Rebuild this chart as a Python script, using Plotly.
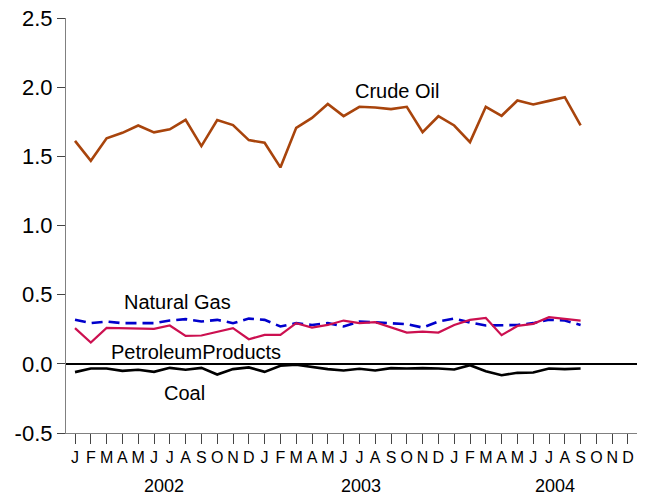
import plotly.graph_objects as go

months = ["J", "F", "M", "A", "M", "J", "J", "A", "S", "O", "N", "D"] * 3
years = ["2002", "2003", "2004"]
year_label_pos = [5.66, 18.1, 30.4]

crude_oil = [1.612, 1.468, 1.630, 1.670, 1.723, 1.673, 1.695, 1.764, 1.574, 1.762,
             1.726, 1.617, 1.598, 1.420, 1.706, 1.778, 1.879, 1.791, 1.858, 1.853,
             1.841, 1.858, 1.675, 1.790, 1.723, 1.603, 1.858, 1.793, 1.904, 1.875,
             1.901, 1.928, 1.723]
natural_gas = [0.318, 0.294, 0.306, 0.294, 0.294, 0.294, 0.313, 0.323, 0.306, 0.318,
               0.294, 0.327, 0.318, 0.270, 0.294, 0.281, 0.294, 0.270, 0.306, 0.299,
               0.289, 0.287, 0.262, 0.306, 0.327, 0.299, 0.277, 0.277, 0.281, 0.294,
               0.318, 0.313, 0.281]
petroleum = [0.258, 0.154, 0.260, 0.258, 0.258, 0.253, 0.277, 0.202, 0.205, 0.233,
             0.258, 0.178, 0.209, 0.209, 0.294, 0.262, 0.281, 0.313, 0.294, 0.301,
             0.262, 0.226, 0.233, 0.226, 0.281, 0.318, 0.332, 0.207, 0.274, 0.289,
             0.337, 0.327, 0.313]
coal = [-0.060, -0.034, -0.034, -0.051, -0.043, -0.058, -0.029, -0.043, -0.029, -0.077,
        -0.038, -0.026, -0.058, -0.014, -0.007, -0.024, -0.038, -0.048, -0.036, -0.048,
        -0.031, -0.034, -0.031, -0.034, -0.041, -0.010, -0.053, -0.082, -0.065, -0.063,
        -0.034, -0.038, -0.034]

y_ticks = [-0.5, 0.0, 0.5, 1.0, 1.5, 2.0, 2.5]
y_tick_text = ["-0.5", "0.0", "0.5", "1.0", "1.5", "2.0", "2.5"]

series_labels = [
    ("Crude Oil", 20.36, 1.975),
    ("Natural Gas", 6.5, 0.444),
    ("PetroleumProducts", 7.63, 0.082),
    ("Coal", 6.96, -0.214),
]

x_idx = list(range(len(crude_oil)))
FONT = "Liberation Sans, Arial, sans-serif"

fig = go.Figure()
fig.add_trace(go.Scatter(x=x_idx, y=natural_gas, mode="lines",
                         line=dict(color="#0000CC", width=2.6, dash="11px,6px")))
fig.add_trace(go.Scatter(x=x_idx, y=petroleum, mode="lines",
                         line=dict(color="#CC1050", width=2.2)))
fig.add_trace(go.Scatter(x=x_idx, y=coal, mode="lines",
                         line=dict(color="#000000", width=2.6)))
fig.add_trace(go.Scatter(x=x_idx, y=crude_oil, mode="lines",
                         line=dict(color="#A8440C", width=2.6)))

for txt, xv, yv in series_labels:
    fig.add_annotation(x=xv, y=yv, text=txt, showarrow=False,
                       font=dict(size=20, color="#000000", family=FONT),
                       xanchor="center", yanchor="middle")

for yr, xv in zip(years, year_label_pos):
    fig.add_annotation(x=xv, y=-0.5, yref="y", text=yr, showarrow=False,
                       font=dict(size=18, color="#000000", family=FONT),
                       xanchor="center", yanchor="middle", yshift=-53)

fig.update_layout(
    width=647, height=496,
    margin=dict(l=66, r=10, t=18, b=63, autoexpand=False),
    paper_bgcolor="white", plot_bgcolor="white",
    showlegend=False,
    font=dict(family=FONT, color="#000000"),
)
fig.update_xaxes(
    range=[-0.57, 35.57], automargin=False,
    tickmode="array", tickvals=list(range(36)), ticktext=months,
    ticks="outside", ticklen=10, tickwidth=1.2, tickcolor="#444444",
    showline=True, linecolor="#808080", linewidth=1.2,
    showgrid=False, zeroline=False,
    tickfont=dict(size=16, family=FONT, color="#000000"),
)
fig.update_yaxes(
    range=[-0.5, 2.5], automargin=False,
    tickmode="array", tickvals=y_ticks, ticktext=y_tick_text,
    ticks="outside", ticklen=8, tickwidth=1.2, tickcolor="#444444",
    showline=True, linecolor="#808080", linewidth=1.2,
    showgrid=False, zeroline=True, zerolinecolor="#000000", zerolinewidth=1.5,
    tickfont=dict(size=22, family=FONT, color="#000000"),
)

fig.write_html(
    "out.html",
    config={"displayModeBar": False},
    post_script="document.body.style.margin='0';document.body.style.padding='0';",
)
